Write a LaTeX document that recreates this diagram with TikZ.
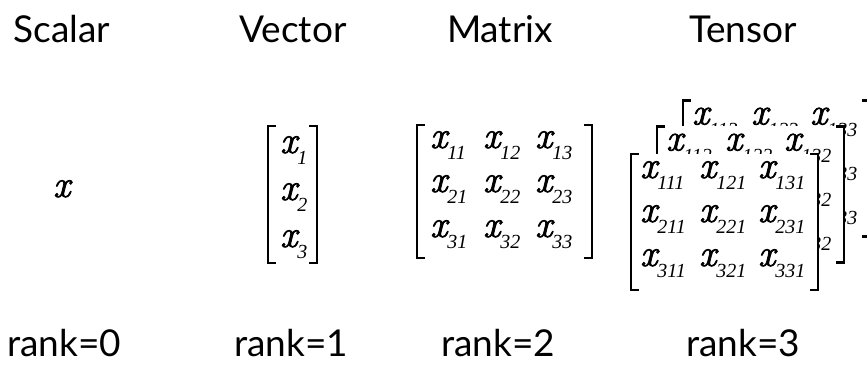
\documentclass[tikz,border=0pt]{standalone}
\usepackage{fontspec}
\setmainfont{Lato}
\newfontfamily\lmit{Latin Modern Roman}[FakeBold=2]
\newfontfamily\tmsit{Liberation Serif Italic}
\newcommand\entx{{\lmit\itshape\fontsize{38}{38}\selectfont x}}
\newcommand\ent[1]{\entx\raisebox{-12pt}{\tmsit\fontsize{20}{20}\selectfont #1}}
\tikzset{
  lbl/.style={font=\fontsize{37}{37}\selectfont, anchor=base, inner sep=0pt},
  entry/.style={anchor=base west, inner sep=0pt},
  brk/.style={line width=2.4pt, line cap=butt, line join=miter},
}
% \brackets{left}{right}{top}{bottom}
\newcommand\brackets[4]{%
  \fill[white] (#1,#3) rectangle (#2,#4);
  \draw[brk] ($(#1,#3)+(8,0)$) -- (#1,#3) -- (#1,#4) -- ($(#1,#4)+(8,0)$);
  \draw[brk] ($(#2,#3)+(-8,0)$) -- (#2,#3) -- (#2,#4) -- ($(#2,#4)+(-8,0)$);
}
\usetikzlibrary{calc}
\begin{document}
\begin{tikzpicture}[x=1pt,y=-1pt]
\useasboundingbox (0,0) rectangle (867,379);
\fill[white] (0,0) rectangle (867,379);
% titles
\node[lbl] (tS) at (62,43) {Scalar};
\node[lbl] (tV) at (293,43) {Vector};
\node[lbl] (tM) at (500,43) {Matrix};
\node[lbl] (tT) at (743,43) {Tensor};
% ranks
\node[lbl] (r0) at (64,356) {rank=0};
\node[lbl] (r1) at (291,356) {rank=1};
\node[lbl] (r2) at (498,356) {rank=2};
\node[lbl] (r3) at (743,356) {rank=3};
% scalar
\node[entry] (sx) at (53,197) {\entx};
% vector
\brackets{268}{317}{126}{263}
\node[entry] (v1) at (280,153) {\ent{1}};
\node[entry] (v2) at (280,200) {\ent{2}};
\node[entry] (v3) at (280,247) {\ent{3}};
% matrix
\brackets{417}{592}{125}{258}
\foreach \r/\yy in {1/148,2/192,3/237}{
  \foreach \c/\xx in {1/430,2/483,3/535}{
    \node[entry] (m\r\c) at (\xx,\yy) {\ent{\r\c}};
  }
}
% tensor: back, middle, front
\foreach \k/\dx/\dy in {3/52/-53.5, 2/26/-27.5, 1/0/0}{
  \brackets{631+\dx}{818+\dx}{154+\dy}{290+\dy}
  \foreach \r/\yy in {1/178,2/222,3/266}{
    \foreach \c/\xx in {1/640,2/699,3/758}{
      \node[entry] (t\r\c\k) at (\xx+\dx,\yy+\dy) {\ent{\r\c\k}};
    }
  }
}
\end{tikzpicture}
\end{document}
